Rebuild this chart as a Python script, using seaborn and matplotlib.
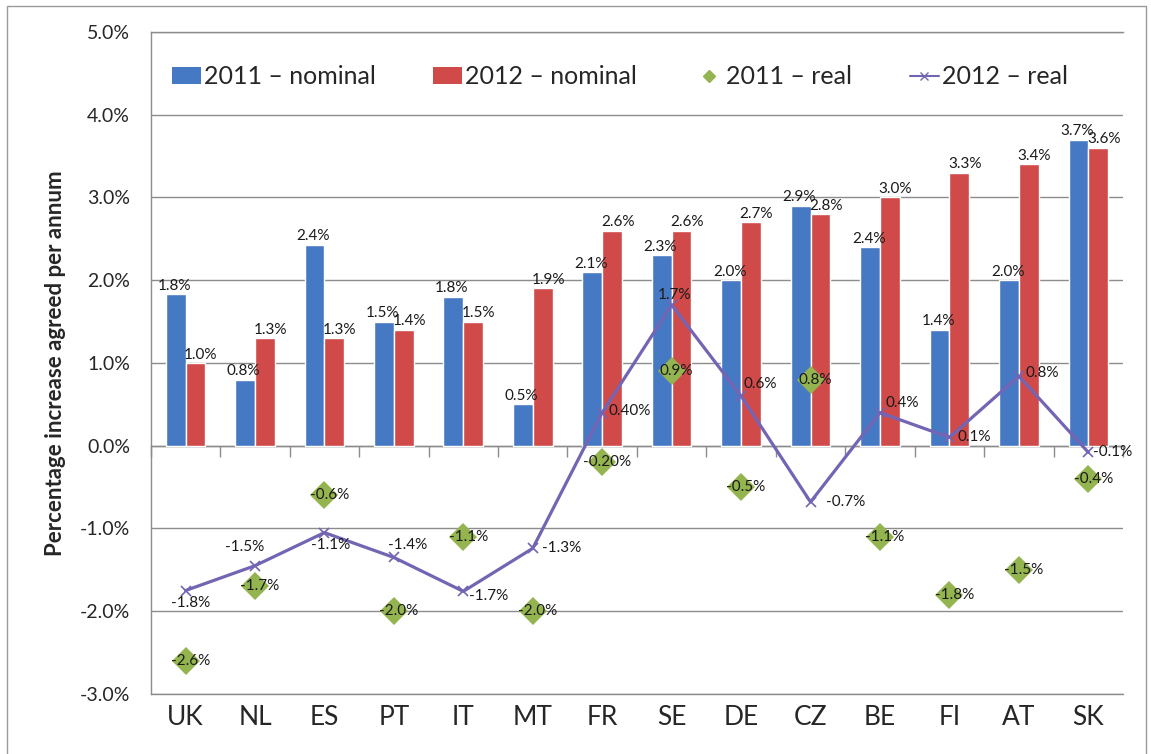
import numpy as np
import pandas as pd
import seaborn as sns
import matplotlib
matplotlib.use("Agg")
import matplotlib.pyplot as plt
from matplotlib.patches import Patch, Rectangle
from matplotlib.lines import Line2D

# ---------------- data ----------------
countries = ["UK", "NL", "ES", "PT", "IT", "MT", "FR", "SE", "DE", "CZ", "BE", "FI", "AT", "SK"]
nominal_2011 = [1.83, 0.8, 2.43, 1.5, 1.8, 0.5, 2.1, 2.3, 2.0, 2.9, 2.4, 1.4, 2.0, 3.7]
nominal_2012 = [1.0, 1.3, 1.3, 1.4, 1.5, 1.9, 2.6, 2.6, 2.7, 2.8, 3.0, 3.3, 3.4, 3.6]
real_2011 = [-2.6, -1.7, -0.6, -2.0, -1.1, -2.0, -0.2, 0.9, -0.5, 0.8, -1.1, -1.8, -1.5, -0.4]
real_2012 = [-1.75, -1.45, -1.05, -1.35, -1.76, -1.24, 0.4, 1.7, 0.6, -0.68, 0.4, 0.1, 0.84, -0.08]
real_2011_labels = ["-2.6%", "-1.7%", "-0.6%", "-2.0%", "-1.1%", "-2.0%", "-0.20%", "0.9%",
                    "-0.5%", "0.8%", "-1.1%", "-1.8%", "-1.5%", "-0.4%"]
real_2012_labels = ["-1.8%", "-1.5%", "-1.1%", "-1.4%", "-1.7%", "-1.3%", "0.40%", "1.7%",
                    "0.6%", "-0.7%", "0.4%", "0.1%", "0.8%", "-0.1%"]
series_names = ["2011 \u2013 nominal", "2012 \u2013 nominal", "2011 \u2013 real", "2012 \u2013 real"]
y_ticks = [-3, -2, -1, 0, 1, 2, 3, 4, 5]
y_label = "Percentage increase agreed per annum"

# label offsets (pixels) for the 2012-real labels
off_2012 = [(5, -12), (-10, 19), (6, -12), (14, 12), (25, -5), (29, 0), (28, 2),
            (3, 10), (19, 12), (35, 0), (22, 10), (25, 0), (23, 3), (24, 0)]

blue = "#4679C4"
red = "#CF4A49"
green = "#93B44E"
purple = "#7464B4"
grid_c = "#8C8C8C"

# ---------------- figure ----------------
sns.set_theme(style="white")
plt.rcParams["font.family"] = ["Lato", "DejaVu Sans"]

fig = plt.figure(figsize=(11.51, 7.54), dpi=100)
ax = fig.add_axes([0.131, 0.0796, 0.8447, 0.878])

df_nom = pd.DataFrame({
    "country": countries * 2,
    "value": nominal_2011 + nominal_2012,
    "series": [series_names[0]] * len(countries) + [series_names[1]] * len(countries),
})

sns.barplot(data=df_nom, x="country", y="value", hue="series", order=countries,
            hue_order=series_names[:2], palette=[blue, red], width=0.57,
            saturation=1, ax=ax, legend=False, zorder=2)

for cont, shift in zip(ax.containers, [-1, 4]):
    labs = ax.bar_label(cont, fmt="%.1f%%", padding=1, fontsize=11, color="#1a1a1a", zorder=6)
    for lab in labs:
        lab.xyann = (shift, 1)

sns.pointplot(x=countries, y=real_2012, order=countries, color=purple, marker="x",
              linestyle="-", linewidth=2.3, markersize=7, markeredgewidth=1.2,
              errorbar=None, ax=ax, zorder=4)
sns.pointplot(x=countries, y=real_2011, order=countries, color=green, marker="D",
              linestyle="none", markersize=14, markeredgewidth=0,
              errorbar=None, ax=ax, zorder=5)

for i, (v, t) in enumerate(zip(real_2011, real_2011_labels)):
    ax.annotate(t, (i, v), xytext=(5, 0), textcoords="offset pixels",
                ha="center", va="center", fontsize=11, color="#1a1a1a", zorder=7)
for i, (v, t) in enumerate(zip(real_2012, real_2012_labels)):
    dx, dy = off_2012[i]
    ax.annotate(t, (i, v), xytext=(dx, dy), textcoords="offset pixels",
                ha="center", va="center", fontsize=11, color="#1a1a1a", zorder=7)

# axes styling
ax.set_xlim(-0.5, len(countries) - 0.5)
ax.set_ylim(-3, 5)
ax.set_yticks(y_ticks)
ax.set_yticklabels([f"{t:.1f}%" for t in y_ticks], fontsize=14)
ax.tick_params(axis="y", direction="out", length=7, width=1, color=grid_c, pad=8)
ax.tick_params(axis="x", length=0, pad=8, labelsize=19)
ax.set_xlabel("")
ax.set_ylabel(y_label, fontsize=16, fontweight="bold", labelpad=10)
ax.yaxis.grid(True, color=grid_c, lw=1, zorder=0)
ax.set_axisbelow(True)
for side in ["left", "bottom", "top"]:
    ax.spines[side].set_color(grid_c)
    ax.spines[side].set_linewidth(1)
ax.spines["right"].set_visible(False)

# x axis line at 0 with tick marks at category boundaries
sec = ax.secondary_xaxis(0, transform=ax.transData)
sec.set_xticks(np.arange(-0.5, len(countries), 1))
sec.set_xticklabels([])
sec.tick_params(direction="out", length=8, width=1, color=grid_c)
sec.spines["bottom"].set_color(grid_c)
sec.spines["bottom"].set_linewidth(1)

# legend
handles = [
    Patch(facecolor=blue, edgecolor="none"),
    Patch(facecolor=red, edgecolor="none"),
    Line2D([], [], color=green, marker="D", markersize=6, linestyle="none"),
    Line2D([], [], color=purple, marker="x", markersize=6, lw=1.5),
]
leg = ax.legend(handles, series_names, loc="center", bbox_to_anchor=(0.4825, 0.932),
                ncol=4, frameon=False, fontsize=18, handlelength=1.15,
                handletextpad=0.12, columnspacing=2.3, borderaxespad=0)

# outer border
fig.patches.append(Rectangle((0.006, -0.01), 0.990, 1.002, transform=fig.transFigure,
                             fill=False, edgecolor="#9a9a9a", lw=1))

fig.savefig("out.png", dpi=100)
